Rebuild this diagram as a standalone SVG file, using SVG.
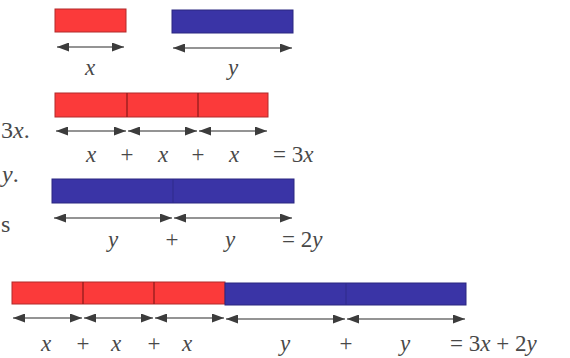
<svg xmlns="http://www.w3.org/2000/svg" width="570" height="358" viewBox="0 0 570 358">
<defs>
<marker id="ah" viewBox="0 0 12 9" refX="12" refY="4.5" markerWidth="12" markerHeight="9" markerUnits="userSpaceOnUse" orient="auto-start-reverse">
<path d="M0,0 L12,4.5 L0,9 Z" fill="#3c3c3c"/>
</marker>
</defs>
<style>
.red{fill:#fb3a3a;stroke:#b22a2a;stroke-width:1}
.blue{fill:#3a34a6;stroke:#2a2680;stroke-width:1}
.div{stroke:#8a1a1a;stroke-width:1.2}
.divb{stroke:#2e2a8a;stroke-width:1}
.arr{stroke:#707070;stroke-width:1.4;fill:none;marker-start:url(#ah);marker-end:url(#ah)}
.t{font-family:'Liberation Serif','Times New Roman',serif;font-size:23px;fill:#484848}
.v{font-style:italic}
</style>
<rect width="570" height="358" fill="#ffffff"/>
<g id="left-fragments" class="t" style="font-size:24px">
<text x="1" y="138"><tspan>3</tspan><tspan class="v">x</tspan>.</text>
<text x="2" y="182"><tspan class="v">y</tspan>.</text>
<text x="1" y="232">s</text>
</g>
<g id="row1-x" class="t">
<rect class="red" x="55" y="9" width="71" height="23"/>
<text class="v" x="90" y="75" text-anchor="middle">x</text>
</g>
<g id="row1-y" class="t">
<rect class="blue" x="172" y="10" width="121" height="23"/>
<text class="v" x="233" y="75" text-anchor="middle">y</text>
</g>
<g id="row2" class="t">
<rect class="red" x="55" y="93" width="213" height="24"/>
<line class="div" x1="127" y1="93" x2="127" y2="117"/>
<line class="div" x1="198" y1="93" x2="198" y2="117"/>
<text class="v" x="91" y="162" text-anchor="middle">x</text>
<text x="127" y="162" text-anchor="middle">+</text>
<text class="v" x="163" y="162" text-anchor="middle">x</text>
<text x="198" y="162" text-anchor="middle">+</text>
<text class="v" x="234" y="162" text-anchor="middle">x</text>
<text x="273" y="162">= 3<tspan class="v">x</tspan></text>
</g>
<g id="row3" class="t">
<rect class="blue" x="52" y="179" width="242" height="24"/>
<line class="divb" x1="173" y1="179" x2="173" y2="203"/>
<text class="v" x="113" y="247" text-anchor="middle">y</text>
<text x="172" y="247" text-anchor="middle">+</text>
<text class="v" x="230" y="247" text-anchor="middle">y</text>
<text x="282" y="247">= 2<tspan class="v">y</tspan></text>
</g>
<g id="row4" class="t">
<rect class="red" x="12" y="282" width="213" height="22"/>
<rect class="blue" x="225" y="283" width="241" height="22"/>
<line class="div" x1="83" y1="282" x2="83" y2="304"/>
<line class="div" x1="154" y1="282" x2="154" y2="304"/>
<line class="divb" x1="346" y1="283" x2="346" y2="305"/>
<text class="v" x="46" y="351" text-anchor="middle">x</text>
<text x="83" y="351" text-anchor="middle">+</text>
<text class="v" x="116" y="351" text-anchor="middle">x</text>
<text x="154" y="351" text-anchor="middle">+</text>
<text class="v" x="187" y="351" text-anchor="middle">x</text>
<text class="v" x="285" y="351" text-anchor="middle">y</text>
<text x="346" y="351" text-anchor="middle">+</text>
<text class="v" x="405" y="351" text-anchor="middle">y</text>
<text x="450" y="351">= 3<tspan class="v">x</tspan> + 2<tspan class="v">y</tspan></text>
</g>
<g id="connectors">
<line class="arr" x1="57" y1="47" x2="124" y2="47"/>
<line class="arr" x1="173" y1="48" x2="292" y2="48"/>
<line class="arr" x1="56" y1="131" x2="126" y2="131"/>
<line class="arr" x1="128" y1="131" x2="197" y2="131"/>
<line class="arr" x1="199" y1="131" x2="267" y2="131"/>
<line class="arr" x1="54" y1="218" x2="172" y2="218"/>
<line class="arr" x1="174" y1="218" x2="292" y2="218"/>
<line class="arr" x1="13" y1="318" x2="82" y2="318"/>
<line class="arr" x1="84" y1="318" x2="153" y2="318"/>
<line class="arr" x1="155" y1="318" x2="224" y2="318"/>
<line class="arr" x1="226" y1="319" x2="345" y2="319"/>
<line class="arr" x1="347" y1="319" x2="465" y2="319"/>
</g>
</svg>
